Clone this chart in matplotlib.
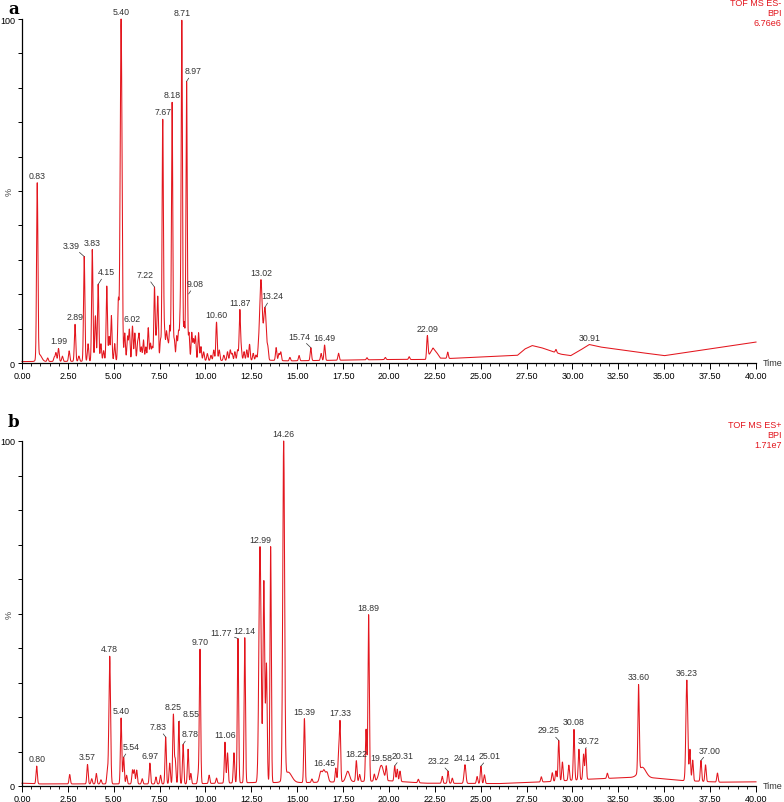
import numpy as np
import matplotlib.pyplot as plt
from matplotlib.ticker import MultipleLocator, FixedLocator

plt.rcParams['font.family'] = ['Liberation Sans', 'DejaVu Sans']

RED = '#e3161e'

# ---------------- panel a : TOF MS ES- (BPI 6.76e6) ----------------
a_times = [0.83, 0.95, 1.40, 1.76, 1.85, 1.99, 2.20, 2.57, 2.89, 3.10, 3.39, 3.60, 3.83,
           4.00, 4.15, 4.30, 4.45, 4.62, 4.75, 4.87, 5.05, 5.25, 5.40, 5.60,
           5.75, 5.85, 6.02, 6.15, 6.30, 6.38, 6.50, 6.62, 6.75, 6.88, 7.00, 7.10, 7.22,
           7.32, 7.40, 7.55, 7.67, 7.77, 7.87, 7.95, 8.05, 8.18, 8.30, 8.43, 8.53, 8.62,
           8.71, 8.84, 8.97, 9.10, 9.25, 9.35, 9.45, 9.62, 9.75, 9.90, 10.10, 10.30, 10.45,
           10.60, 10.75, 11.00, 11.20, 11.35, 11.45, 11.60, 11.75, 11.87, 11.95, 12.10,
           12.25, 12.40, 12.60, 12.75, 12.88, 13.02, 13.24, 13.40, 13.85, 14.00, 14.10,
           14.60, 15.10, 15.74, 16.30, 16.49, 17.25, 18.80, 19.80, 21.10, 22.09, 23.20,
           29.10]
a_heights = [50.0, 2.0, 1.0, 1.2, 2.5, 3.7, 1.5, 3.0, 10.6, 1.5, 30.0, 5.0, 32.0,
             13.0, 22.0, 5.0, 3.0, 21.5, 7.0, 13.0, 5.0, 17.0, 98.0, 8.0,
             7.0, 9.0, 10.0, 8.0, 5.0, 7.5, 4.0, 6.0, 4.0, 9.5, 5.0, 4.0, 21.0,
             6.0, 18.0, 6.0, 69.0, 8.0, 8.0, 5.0, 10.0, 74.0, 6.0, 7.0, 8.0, 12.0,
             97.0, 11.0, 80.0, 8.0, 8.0, 6.0, 7.0, 8.0, 4.0, 2.5, 2.0, 1.5, 3.0,
             11.0, 3.0, 1.5, 2.5, 3.0, 2.0, 2.5, 3.0, 14.3, 3.0, 2.5,
             3.0, 4.6, 2.0, 1.5, 2.0, 23.0, 15.0, 3.0, 3.7, 2.0, 2.5,
             1.0, 1.5, 3.7, 2.0, 4.4, 2.0, 0.6, 0.6, 0.8, 6.2, 1.8,
             0.9]
a_widths = {0.95: 0.12, 5.40: 0.05, 13.02: 0.07, 13.24: 0.07}
a_base_t = [0.0, 13.5, 14.5, 20.0, 22.0, 22.2, 22.4, 22.6, 22.8, 23.3, 27.0, 27.4, 27.8,
            28.3, 28.9, 29.4, 29.9, 30.4, 30.91, 31.5, 33.0, 35.0, 40.0]
a_base_v = [0.4, 0.8, 0.6, 1.0, 1.0, 2.5, 4.3, 3.0, 1.4, 1.3, 2.2, 4.0, 5.0,
            4.4, 3.3, 2.5, 2.1, 3.6, 5.3, 4.6, 3.5, 2.1, 6.0]
a_labels = ['0.83', '1.99', '2.89', '3.39', '3.83', '4.15', '5.40', '6.02', '7.22', '7.67',
            '8.18', '8.71', '8.97', '9.08', '10.60', '11.87', '13.02', '13.24', '15.74',
            '16.49', '22.09', '30.91']

# ---------------- panel b : TOF MS ES+ (BPI 1.71e7) ----------------
b_times = [0.80, 2.60, 3.57, 3.80, 4.05, 4.30, 4.65, 4.78, 5.40, 5.54, 5.70, 6.02, 6.12,
           6.25, 6.55, 6.97, 7.30, 7.55, 7.83, 8.05, 8.25, 8.35, 8.55, 8.78, 9.05, 9.20,
           9.60, 9.70, 10.20, 10.60, 11.06, 11.20, 11.55, 11.77, 12.14, 12.97, 13.18,
           13.32, 13.55, 14.26, 14.50, 15.39, 15.80, 16.28, 16.45, 16.62, 17.10, 17.25,
           17.33, 17.75, 18.22, 18.40, 18.75, 18.89, 19.20, 19.58, 19.85, 20.31, 20.45,
           20.60, 21.60, 22.90, 23.22, 23.45, 24.14, 24.80, 25.01, 25.20, 28.30, 28.90,
           29.10, 29.25, 29.45, 29.80, 30.08, 30.35, 30.60, 30.72, 31.90, 33.60, 33.80,
           36.23, 36.40, 36.55, 37.00, 37.25, 37.90]
b_heights = [5.1, 2.7, 5.6, 1.5, 3.0, 1.2, 3.6, 36.8, 19.0, 7.7, 2.5, 4.0, 4.0,
             4.0, 1.5, 6.0, 2.0, 2.5, 13.5, 6.0, 20.0, 7.0, 18.0, 11.4, 10.0, 3.0,
             2.5, 38.7, 2.4, 1.5, 11.8, 8.7, 8.7, 41.6, 41.8, 68.0, 58.0,
             34.0, 68.0, 97.0, 3.0, 18.4, 1.0, 3.0, 3.3, 2.8, 4.0, 7.7,
             17.0, 3.0, 6.0, 2.0, 15.0, 48.0, 2.0, 4.5, 4.0, 4.4, 3.5,
             3.0, 1.0, 2.0, 3.5, 1.5, 5.4, 2.0, 5.0, 2.5, 1.5, 2.5,
             3.0, 11.7, 5.4, 4.4, 14.6, 8.8, 7.3, 8.8, 1.5, 25.0, 3.0,
             29.0, 9.0, 6.0, 6.0, 4.8, 2.6]
b_widths = {4.78: 0.045, 12.97: 0.06, 13.18: 0.045, 13.32: 0.04, 14.26: 0.05, 14.50: 0.2,
            16.28: 0.07, 16.45: 0.07, 16.62: 0.07, 17.75: 0.1, 19.58: 0.12, 24.14: 0.05,
            33.80: 0.2, 36.23: 0.05}
b_base_t = [0.0, 1.0, 9.0, 12.6, 15.5, 20.0, 22.0, 26.0, 28.5, 31.0, 33.3, 34.5, 35.9,
            36.8, 38.0, 40.0]
b_base_v = [0.8, 0.6, 0.6, 1.0, 1.0, 1.5, 0.8, 0.7, 1.2, 2.0, 2.5, 2.3, 1.6,
            1.4, 1.1, 1.2]
b_labels = ['0.80', '3.57', '4.78', '5.40', '5.54', '6.97', '7.83', '8.25', '8.55', '8.78',
            '9.70', '11.06', '11.77', '12.14', '12.99', '14.26', '15.39', '16.45', '17.33',
            '18.22', '18.89', '19.58', '20.31', '23.22', '24.14', '25.01', '29.25', '30.08',
            '30.72', '33.60', '36.23', '37.00']

# label offsets in pixels (dx, dy) for labels that sit beside their peak
a_offsets = {'3.39': (-13, 7), '4.15': (8, 8), '7.22': (-9, 8), '8.97': (7, 6),
             '9.08': (7, 6), '13.24': (7, 7), '15.74': (-12, 7)}
b_offsets = {'5.54': (7, 6), '7.83': (-8, 6), '8.55': (12, 3), '8.78': (7, 6),
             '11.77': (-17, 2), '20.31': (8, 6), '23.22': (-10, 6), '25.01': (9, 6),
             '29.25': (-10, 6), '30.72': (3, 4), '37.00': (9, 6)}

t = np.linspace(0, 40, 16001)


def trace(times, heights, widths, base_t, base_v):
    y = np.interp(t, base_t, base_v)
    for tc, h in zip(times, heights):
        s = widths.get(tc, 0.036)
        y = y + h * np.exp(-0.5 * ((t - tc) / s) ** 2)
    return y * 100.0 / y.max()   # base peak intensity = 100 %


def peak_top(y, tc):
    m = (t > tc - 0.05) & (t < tc + 0.05)
    return y[m].max()


def draw(ax, y, labels, offsets, mode):
    ax.plot(t, y, color=RED, lw=0.75, clip_on=False)
    ax.set_xlim(0, 40)
    ax.set_ylim(0, 100)
    for sp in ['top', 'right']:
        ax.spines[sp].set_visible(False)
    ax.spines['left'].set_linewidth(0.9)
    ax.spines['bottom'].set_linewidth(0.9)
    ax.xaxis.set_major_locator(MultipleLocator(2.5))
    ax.xaxis.set_minor_locator(MultipleLocator(0.5))
    ax.set_xticklabels(['%.2f' % v for v in ax.get_xticks()])
    ax.yaxis.set_major_locator(FixedLocator(np.arange(0, 101, 10)))
    ax.set_yticklabels(['0', '', '', '', '', '', '', '', '', '', '100'])
    ax.tick_params(axis='x', which='major', length=4, width=0.7, labelsize=6.5, pad=2)
    ax.tick_params(axis='x', which='minor', length=2.5, width=0.6)
    ax.tick_params(axis='y', length=3, width=0.7, labelsize=6.5, pad=2)
    ax.text(-0.012, 0.5, '%', rotation=90, transform=ax.transAxes, fontsize=6.5,
            ha='right', va='center', color='#444444')
    ax.text(1.009, 0.0, 'Time', transform=ax.transAxes, fontsize=6.5, ha='left',
            va='center', color='#333333')
    for lab in labels:
        tc = float(lab)
        top = peak_top(y, tc)
        dx, dy = offsets.get(lab, (0, 3))
        arrow = None
        if lab in offsets:
            arrow = dict(arrowstyle='-', lw=0.5, color='#333333', shrinkA=0, shrinkB=0)
        ax.annotate(lab, xy=(tc, top), xytext=(dx, dy), textcoords='offset pixels',
                    ha='center', va='bottom', fontsize=6.3, color='#333333',
                    annotation_clip=False, arrowprops=arrow)
    ax.text(1.035, 1.06, 'TOF MS ' + mode[0] + '\nBPI\n' + mode[1],
            transform=ax.transAxes, ha='right', va='top', fontsize=6.5,
            color=RED, linespacing=1.15)


fig = plt.figure(figsize=(7.84, 8.03), dpi=100)
ax_a = fig.add_axes([22 / 784, 1 - 364 / 803, 734 / 784, 344 / 803])
ax_b = fig.add_axes([22 / 784, 1 - 787 / 803, 734 / 784, 345 / 803])

ya = trace(a_times, a_heights, a_widths, a_base_t, a_base_v)
yb = trace(b_times, b_heights, b_widths, b_base_t, b_base_v)
draw(ax_a, ya, a_labels, a_offsets, ('ES-', '6.76e6'))
draw(ax_b, yb, b_labels, b_offsets, ('ES+', '1.71e7'))

fig.text(8 / 784, 1 - 9 / 803, 'a', fontsize=12, fontweight='bold', family='DejaVu Serif',
         ha='left', va='center')
fig.text(8 / 784, 1 - 423 / 803, 'b', fontsize=12, fontweight='bold', family='DejaVu Serif',
         ha='left', va='center')

fig.savefig('out.png', dpi=100)
